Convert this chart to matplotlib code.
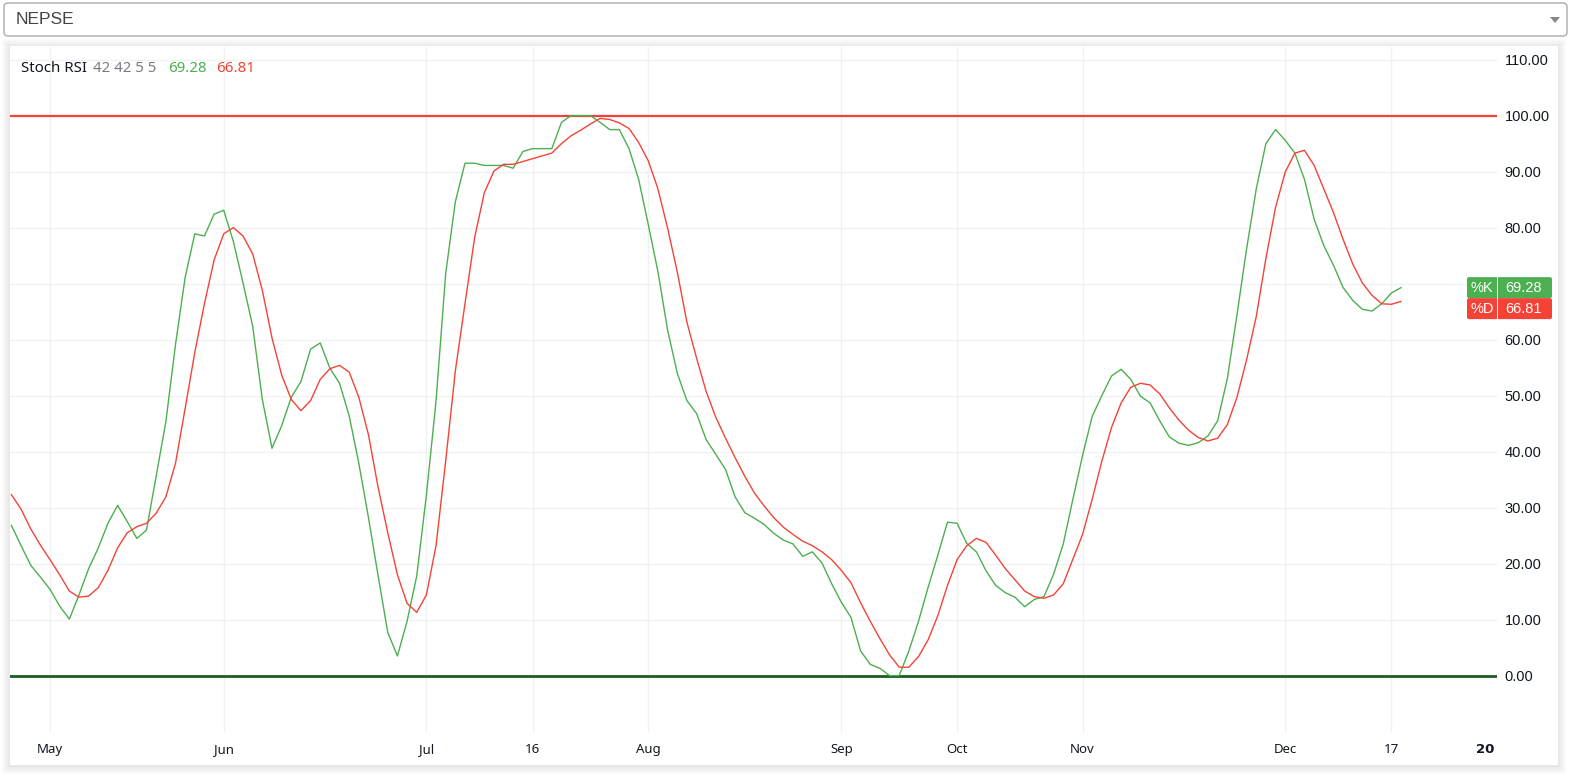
import matplotlib.pyplot as plt
from matplotlib.patches import FancyBboxPatch, Rectangle, Polygon
from matplotlib.transforms import IdentityTransform, blended_transform_factory

W, H = 1572, 776

# Stoch RSI 42 42 5 5 - one value per trading session
k_values = [
    26.8, 23.2, 19.7, 17.6, 15.4, 12.4, 10.1, 14.4, 19.1, 22.8,
    27.2, 30.4, 27.5, 24.5, 26.0, 35.6, 45.3, 59.1, 71.1, 78.9,
    78.5, 82.4, 83.1, 77.5, 70.1, 62.4, 49.3, 40.6, 44.6, 49.7,
    52.5, 58.3, 59.4, 54.9, 52.2, 46.4, 37.9, 28.2, 17.8, 7.7,
    3.5, 9.7, 17.8, 32.2, 49.0, 71.8, 84.6, 91.5, 91.5, 91.1,
    91.1, 91.1, 90.6, 93.6, 94.1, 94.1, 94.1, 98.8, 100.0, 100.0,
    100.0, 98.8, 97.5, 97.5, 94.1, 88.6, 80.5, 72.1, 61.7, 54.0,
    49.1, 46.8, 42.1, 39.5, 36.8, 31.9, 29.1, 28.1, 27.0, 25.4,
    24.2, 23.5, 21.3, 22.1, 20.1, 16.4, 13.1, 10.4, 4.4, 2.0,
    1.3, 0.0, 0.0, 4.4, 9.7, 15.8, 21.5, 27.4, 27.2, 23.6,
    22.1, 18.7, 16.1, 14.8, 14.0, 12.3, 13.6, 14.1, 18.1, 23.5,
    31.5, 39.3, 46.3, 50.0, 53.5, 54.7, 52.9, 49.9, 48.7, 45.5,
    42.6, 41.5, 41.1, 41.6, 42.8, 45.5, 53.0, 64.4, 76.2, 86.9,
    95.0, 97.5, 95.6, 93.3, 88.6, 81.5, 76.8, 73.3, 69.3, 67.0,
    65.4, 65.1, 66.4, 68.3, 69.28,
]
d_values = [
    32.3, 29.7, 26.2, 23.3, 20.7, 18.0, 15.1, 14.0, 14.2, 15.7,
    18.8, 22.8, 25.5, 26.6, 27.2, 29.0, 31.9, 37.9, 47.7, 57.7,
    66.4, 74.2, 78.9, 80.0, 78.5, 75.3, 68.8, 60.3, 53.7, 49.3,
    47.3, 49.1, 52.9, 54.8, 55.4, 54.2, 49.7, 43.0, 33.6, 25.5,
    18.0, 12.9, 11.3, 14.4, 23.2, 38.3, 54.4, 66.4, 78.2, 86.2,
    90.1, 91.3, 91.3, 91.8, 92.3, 92.8, 93.3, 95.0, 96.4, 97.4,
    98.5, 99.5, 99.3, 98.7, 97.7, 95.2, 91.9, 86.9, 79.9, 72.1,
    63.1, 56.7, 50.7, 46.1, 42.4, 38.9, 35.6, 32.6, 30.3, 28.2,
    26.5, 25.2, 24.0, 23.2, 22.1, 20.7, 18.8, 16.6, 13.0, 9.7,
    6.6, 3.7, 1.5, 1.5, 3.4, 6.4, 10.7, 16.1, 20.7, 23.2,
    24.5, 23.8, 21.5, 19.1, 17.1, 15.1, 14.1, 13.8, 14.4, 16.4,
    20.8, 25.2, 31.5, 38.3, 44.3, 48.7, 51.5, 52.2, 51.9, 50.3,
    47.8, 45.6, 43.8, 42.5, 41.9, 42.4, 44.8, 49.7, 56.4, 64.1,
    74.5, 83.6, 89.9, 93.3, 93.8, 91.1, 86.9, 82.7, 77.9, 73.5,
    70.1, 67.9, 66.4, 66.3, 66.81,
]

# time axis: bar index of each label
tick_pos = [4, 22, 43, 54, 66, 86, 98, 111, 132, 143]
tick_labels = ["May", "Jun", "Jul", "16", "Aug", "Sep", "Oct", "Nov", "Dec", "17"]
year_pos, year_label = 152.7, "20"

params = "42 42 5 5"
upper_band, lower_band = 100, 0

GREEN = "#4caf50"
RED = "#f44336"
DARK_GREEN = "#1b5e20"
GRID = "#f0f1f4"
TEXT = "#131722"

fig = plt.figure(figsize=(W / 100, H / 100), dpi=100)
fig.patch.set_facecolor("white")
px = IdentityTransform()


def fy(y):
    return H - y


# dropdown on top
fig.add_artist(FancyBboxPatch((4, fy(36)), 1563, 33, boxstyle="round,pad=0,rounding_size=4",
                              transform=px, facecolor="white", edgecolor="#aaaaaa", lw=1,
                              zorder=-1))
fig.text(16 / W, fy(20) / H, "NEPSE", fontsize=12.5, color="#444444",
         family="Liberation Sans", va="center", ha="left")
fig.add_artist(Polygon([[1550, fy(17)], [1560, fy(17)], [1555, fy(23)]], closed=True,
                       transform=px, facecolor="#888888", edgecolor="none"))

# card with soft shadow
for k in range(1, 9):
    fig.add_artist(Rectangle((10 - k, fy(765) - k - 1), 1548 + 2 * k, 719 + 2 * k,
                             transform=px, facecolor="black", edgecolor="none",
                             alpha=0.012, zorder=-3))
fig.add_artist(Rectangle((10, fy(765)), 1548, 719, transform=px,
                         facecolor="white", edgecolor="none", zorder=-2))

ax = fig.add_axes([10 / W, fy(733) / H, 1487 / W, 686 / H])
ax.set_zorder(1)
ax.set_facecolor("white")
for s in ax.spines.values():
    s.set_visible(False)

x = list(range(len(k_values)))
ax.plot(x, k_values, color=GREEN, lw=1.0, zorder=4)
ax.plot(x, d_values, color=RED, lw=1.0, zorder=4)
ax.axhline(upper_band, color=RED, lw=1.6, zorder=3)
ax.axhline(lower_band, color=DARK_GREEN, lw=2.0, zorder=3)

ax.set_xlim(-0.15, 153.95)
ax.set_ylim(-10.25, 112.25)

ax.set_yticks(range(0, 111, 10))
ax.set_yticklabels([f"{v:.2f}" for v in range(0, 111, 10)])
ax.yaxis.tick_right()
ax.tick_params(axis="y", length=0, pad=5.5, labelsize=10.5, labelcolor=TEXT)
ax.set_xticks(tick_pos)
ax.set_xticklabels(tick_labels)
ax.tick_params(axis="x", length=0, pad=7, labelsize=9.5, labelcolor=TEXT)
for lab in ax.get_xticklabels():
    lab.set_family("Noto Sans")
for lab in ax.get_yticklabels():
    lab.set_family("Liberation Sans")
ax.grid(True, color=GRID, lw=1, zorder=0)
ax.set_axisbelow(True)

# year label after the last data (no grid line)
ax.text(year_pos, -9.7 / 686, year_label,
        transform=blended_transform_factory(ax.transData, ax.transAxes),
        ha="center", va="top", fontsize=9.5, fontweight="bold", color=TEXT,
        family="DejaVu Sans")

# legend line at top-left
legend_parts = [("Stoch RSI", TEXT, 21), (params, "#787b86", 93),
                (f"{k_values[-1]:.2f}", GREEN, 168), (f"{d_values[-1]:.2f}", RED, 216)]
for txt, col, xp in legend_parts:
    fig.text(xp / W, fy(68) / H, txt, color=col, fontsize=10.8, family="Noto Sans",
             va="center", ha="left", zorder=6)

# last value badges on the price scale
fig.canvas.draw()
ky = ax.transData.transform((0, k_values[-1]))[1]
badges = [("%K", f"{k_values[-1]:.2f}", GREEN, ky), ("%D", f"{d_values[-1]:.2f}", RED, ky - 21)]
for name, val, col, cy in badges:
    fig.add_artist(FancyBboxPatch((1467, cy - 10.5), 85, 21, boxstyle="round,pad=0,rounding_size=2",
                                  transform=px, facecolor=col, edgecolor="none", zorder=5))
    fig.add_artist(Rectangle((1496.5, cy - 10.5), 1, 21, transform=px,
                             facecolor="white", edgecolor="none", zorder=5))
    fig.text(1482 / W, cy / H, name, color="white", fontsize=10.5, family="Liberation Sans",
             ha="center", va="center", zorder=6)
    fig.text(1524 / W, cy / H, val, color="white", fontsize=10.5, family="Liberation Sans",
             ha="center", va="center", zorder=6)

fig.savefig("out.png", dpi=100)
